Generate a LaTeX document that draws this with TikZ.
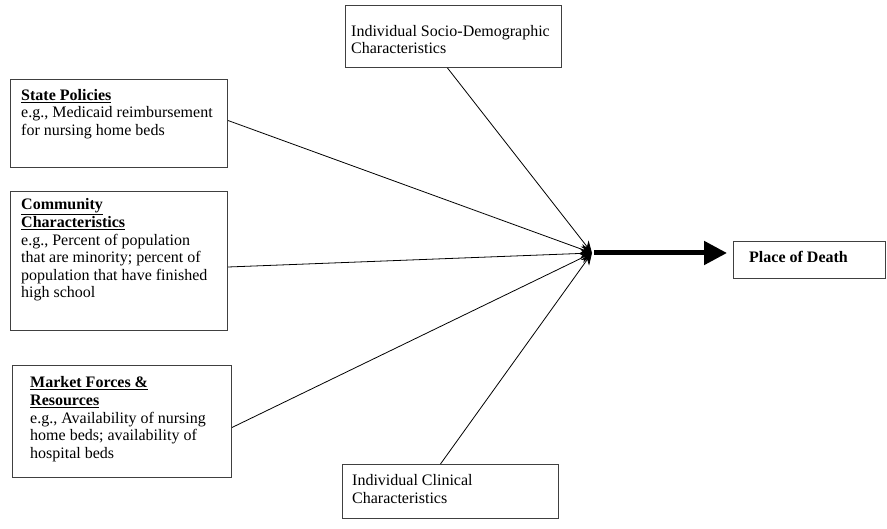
\documentclass[tikz,border=0pt]{standalone}
\usepackage{fontspec}
\setmainfont{Liberation Serif}
\usetikzlibrary{arrows.meta,calc}
\begin{document}
\begin{tikzpicture}[x=1pt,y=-1pt,
  box/.style={draw=black!75,line width=1pt,rectangle,anchor=north west,inner sep=0pt},
  txt/.style={anchor=north west,inner sep=0pt,align=left,font=\fontsize{16}{17.6}\selectfont},
  thin/.style={line width=0.8pt,-{Stealth[length=12pt,width=10pt]}},
  thick/.style={line width=5pt,-{Triangle[length=23pt,width=23pt]}}]
\useasboundingbox (0,0) rectangle (887,529);
% boxes
\node[box,minimum width=217pt,minimum height=88pt] (sp) at (10,79) {};
\node[box,minimum width=217pt,minimum height=139pt] (cc) at (10,191) {};
\node[box,minimum width=219pt,minimum height=112pt] (mf) at (12,365) {};
\node[box,minimum width=216pt,minimum height=62pt] (sd) at (345,5) {};
\node[box,minimum width=216pt,minimum height=54pt] (ic) at (342,464) {};
\node[box,minimum width=152pt,minimum height=37pt] (pd) at (733,241) {};
% texts
\node[txt] (spt) at (21,89) {\textbf{\underline{State Policies}}\\e.g., Medicaid reimbursement\\for nursing home beds};
\node[txt] (cct) at (21,198.5) {\textbf{\underline{Community}}\\\textbf{\underline{Characteristics}}\\e.g., Percent of population\\that are minority; percent of\\population that have finished\\high school};
\node[txt] (mft) at (30,376.5) {\textbf{\underline{Market Forces \&}}\\\textbf{\underline{Resources}}\\e.g., Availability of nursing\\home beds; availability of\\hospital beds};
\node[txt] (sdt) at (351,25) {Individual Socio-Demographic\\Characteristics};
\node[txt] (ict) at (352,474.5) {Individual Clinical\\Characteristics};
\node[txt] (pdt) at (749,251) {\textbf{Place of Death}};
% connectors
\coordinate (c) at (592,253);
\coordinate (c2) at (594,253);
\draw[thin] ($(sp.east)+(0,-3)$) -- (c);
\draw[thin] ($(cc.east)+(0,6)$) -- (c);
\draw[thin] ($(mf.east)+(0,6)$) -- (c);
\draw[thin] ($(sd.south)+(-6,0)$) -- (c);
\draw[thin] ($(ic.north)+(-10,0)$) -- (c);
\draw[thick] (c2) -- ($(c2 -| pd.west)+(-6,0)$);
\end{tikzpicture}
\end{document}
